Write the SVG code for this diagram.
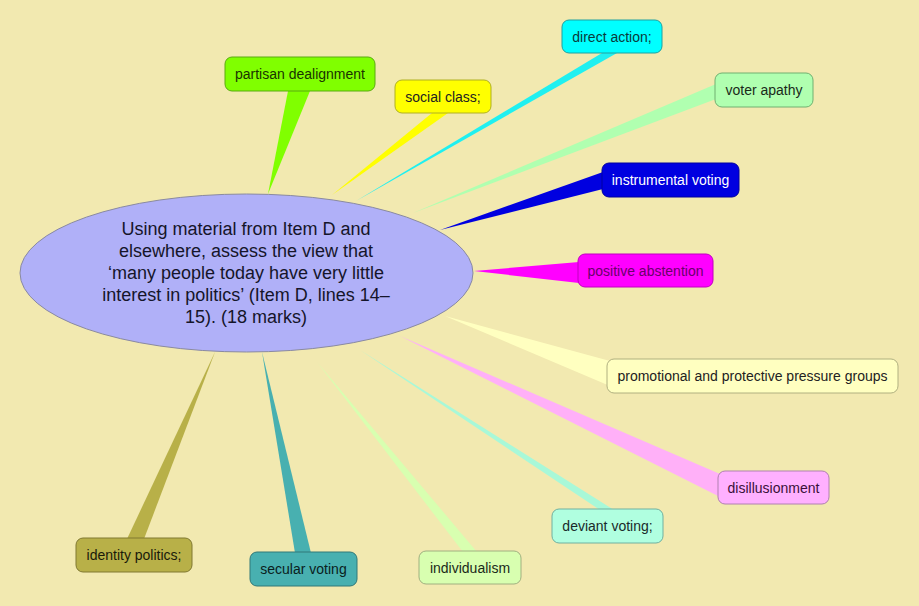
<svg xmlns="http://www.w3.org/2000/svg" width="919" height="606" viewBox="0 0 919 606">
<style>
.n rect{stroke-width:1;}
.n text{font-family:"Liberation Sans",Arial,sans-serif;font-size:14px;text-anchor:middle;}
.c polygon{stroke:none;}
.main text{font-family:"Liberation Sans",Arial,sans-serif;font-size:18px;text-anchor:middle;fill:#15152a;}
</style>
<rect width="919" height="606" fill="#F2E9B0"/>
<g id="connectors" class="c">
<polygon points="268,194 288,91 310,91" fill="#80FF00"/>
<polygon points="332,195 432,113 448,113" fill="#FFFF00"/>
<polygon points="356,201 602,53 617,53" fill="#20F0F0"/>
<polygon points="413,213 716,84 716,99" fill="#B0FFB0"/>
<polygon points="440,230 603,172 603,189" fill="#0000E0"/>
<polygon points="474,271 579,262 579,283" fill="#FF00FF"/>
<polygon points="445,316 610,361 610,386" fill="#FFFFC0"/>
<polygon points="400,336 720,474 720,497" fill="#FFB0F8"/>
<polygon points="360,350 600,510 614,510" fill="#A8F8D8"/>
<polygon points="317,362 463,552 477,552" fill="#D8FFB0"/>
<polygon points="262,352 295,553 311,553" fill="#48B0B0"/>
<polygon points="215,352 127,539 144,539" fill="#B8B048"/>
</g>
<g id="main" class="main">
<ellipse cx="246.5" cy="273" rx="226.5" ry="79" fill="#B0B0F8" stroke="#8A8AA0" stroke-width="1"/>
<text x="246" y="235">Using material from Item D and</text>
<text x="246" y="257">elsewhere, assess the view that</text>
<text x="246" y="279">‘many people today have very little</text>
<text x="246" y="301">interest in politics’ (Item D, lines 14–</text>
<text x="246" y="323">15). (18 marks)</text>
</g>
<g id="partisan" class="n"><rect x="225" y="57" width="150" height="34" rx="7" fill="#80FF00" stroke="#5AAA10"/><text x="300" y="79" fill="#1A3300">partisan dealignment</text></g>
<g id="social" class="n"><rect x="395" y="80" width="96" height="33" rx="7" fill="#FFFF00" stroke="#B0B020"/><text x="443" y="101.5" fill="#222">social class;</text></g>
<g id="direct" class="n"><rect x="562" y="20" width="100" height="33" rx="7" fill="#00FFFF" stroke="#20A0A0"/><text x="612" y="41.5" fill="#0A3A3A">direct action;</text></g>
<g id="apathy" class="n"><rect x="715" y="73" width="98" height="34" rx="7" fill="#B0FFB0" stroke="#70B070"/><text x="764" y="95" fill="#1A2A1A">voter apathy</text></g>
<g id="instrumental" class="n"><rect x="602" y="163" width="137" height="34" rx="7" fill="#0000E0" stroke="#0000A0"/><text x="670.5" y="185" fill="#FFFFFF">instrumental voting</text></g>
<g id="positive" class="n"><rect x="578" y="254" width="135" height="33" rx="7" fill="#FF00FF" stroke="#C000C0"/><text x="645.5" y="275.5" fill="#6A006A">positive abstention</text></g>
<g id="promotional" class="n"><rect x="607" y="359" width="291" height="34" rx="7" fill="#FFFFC0" stroke="#B0B080"/><text x="752.5" y="381" fill="#222">promotional and protective pressure groups</text></g>
<g id="disillusionment" class="n"><rect x="718" y="471" width="111" height="33" rx="7" fill="#FFB0FF" stroke="#B080B0"/><text x="773.5" y="492.5" fill="#3A103A">disillusionment</text></g>
<g id="deviant" class="n"><rect x="552" y="509" width="111" height="34" rx="7" fill="#B0FFE0" stroke="#70B0A0"/><text x="607.5" y="531" fill="#1A2A2A">deviant voting;</text></g>
<g id="identity" class="n"><rect x="76" y="538" width="116" height="34" rx="7" fill="#B8B048" stroke="#807830"/><text x="134" y="560" fill="#1A1A0A">identity politics;</text></g>
<g id="secular" class="n"><rect x="250" y="552" width="107" height="34" rx="7" fill="#48B0B0" stroke="#307878"/><text x="303.5" y="574" fill="#0A2020">secular voting</text></g>
<g id="individualism" class="n"><rect x="419" y="551" width="102" height="33" rx="7" fill="#D8FFB0" stroke="#A0B080"/><text x="470" y="572.5" fill="#1A2A1A">individualism</text></g>
</svg>
